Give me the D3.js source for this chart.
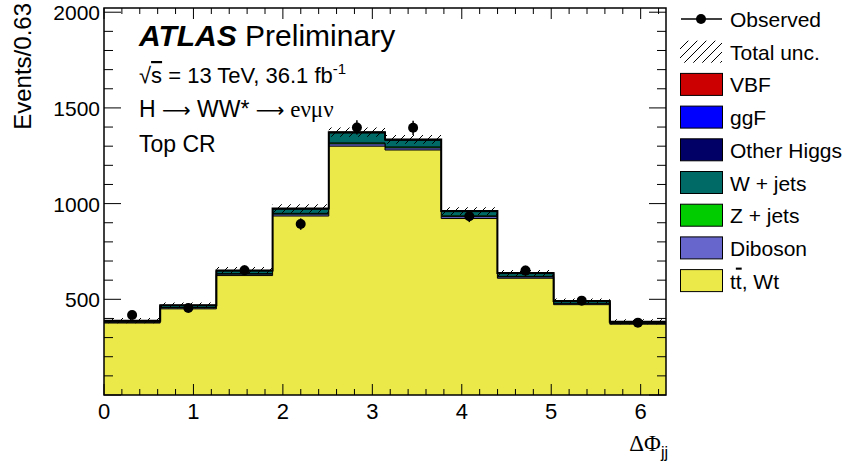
<!DOCTYPE html>
<html>
<head>
<meta charset="utf-8">
<script src="https://cdn.jsdelivr.net/npm/d3@7"></script>
<style>
	body { margin: 0; background: #fff; }
	text { font-family: "Liberation Sans", Arial, sans-serif; fill: #000; }
</style>
</head>
<body>
<svg id="chart" width="843" height="475"></svg>
<script>
// bins of delta phi jj, 10 bins from 0 to 2pi
var binCount  = 10;
var xMax      = 2 * Math.PI;

// backgrounds, events per bin
var ttbar     = [376, 450, 624, 935, 1300, 1280, 922, 610, 472, 370];
var diboson   = [4, 5, 7, 10, 12, 11, 10, 7, 5, 4];
var zjets     = [1, 2, 3, 4, 5, 5, 4, 3, 2, 1];
var wjets     = [6, 10, 14, 22, 52, 35, 22, 14, 10, 6];
var otherH    = [0.3, 0.4, 0.5, 0.6, 0.8, 0.8, 0.6, 0.5, 0.4, 0.3];
var ggF       = [1, 1, 2, 2, 3, 3, 2, 2, 1, 1];
var vbf       = [0.2, 0.3, 0.3, 0.4, 0.5, 0.5, 0.4, 0.3, 0.3, 0.2];
var totalUnc  = [14, 15, 18, 22, 24, 23, 20, 16, 14, 13];
var observed  = [418, 455, 652, 893, 1398, 1396, 934, 650, 493, 378];

var xTicks    = [0, 1, 2, 3, 4, 5, 6];
var yTicks    = [500, 1000, 1500, 2000];

var keys      = ["ttbar", "diboson", "zjets", "wjets", "otherH", "ggF", "vbf"];
var colors    = { ttbar: "#ebe94a", diboson: "#6666cc", zjets: "#00cc00", wjets: "#006a66",
                  otherH: "#000066", ggF: "#0000ff", vbf: "#cc0000" };

var legendRows = [
	{ label: "Observed", type: "data" },
	{ label: "Total unc.", type: "hatch" },
	{ label: "VBF", key: "vbf" },
	{ label: "ggF", key: "ggF" },
	{ label: "Other Higgs", key: "otherH" },
	{ label: "W + jets", key: "wjets" },
	{ label: "Z + jets", key: "zjets" },
	{ label: "Diboson", key: "diboson" },
	{ label: "tt, Wt", key: "ttbar" }
];

var pLeft = 104, pRight = 666, pTop = 8, pBottom = 395;

var svg = d3.select("#chart");
var x = d3.scaleLinear().domain([0, xMax]).range([pLeft, pRight]);
var y = d3.scaleLinear().domain([0, 2022]).range([pBottom, pTop]);

var binW  = xMax / binCount;
var edges = d3.range(binCount + 1).map(function(i){ return i * binW; });

var rows = d3.range(binCount).map(function(i){
	return { ttbar: ttbar[i], diboson: diboson[i], zjets: zjets[i], wjets: wjets[i],
	         otherH: otherH[i], ggF: ggF[i], vbf: vbf[i] };
});
var series = d3.stack().keys(keys)(rows);

// hatch pattern
var defs = svg.append("defs");
var pat = defs.append("pattern")
	.attr("id", "hatch")
	.attr("patternUnits", "userSpaceOnUse")
	.attr("width", 9).attr("height", 9);
pat.append("path")
	.attr("d", "M0,9 L9,0 M-2,2 L2,-2 M7,11 L11,7")
	.attr("stroke", "#000").attr("stroke-width", 1);

defs.append("clipPath").attr("id", "plotClip")
	.append("rect").attr("x", pLeft).attr("y", pTop)
	.attr("width", pRight - pLeft).attr("height", pBottom - pTop);

var plot = svg.append("g").attr("clip-path", "url(#plotClip)");

// step points for a layer
function stepPoints(s){
	var pts = [];
	s.forEach(function(d, i){
		pts.push({ x: edges[i], y0: d[0], y1: d[1] });
		pts.push({ x: edges[i + 1], y0: d[0], y1: d[1] });
	});
	return pts;
}

var area = d3.area()
	.x(function(p){ return x(p.x); })
	.y0(function(p){ return y(0); })
	.y1(function(p){ return y(p.y1); });
var topLine = d3.line()
	.x(function(p){ return x(p.x); })
	.y(function(p){ return y(p.y1); });

// draw biggest cumulative first, smaller on top
series.slice().reverse().forEach(function(s){
	var pts = stepPoints(s);
	plot.append("path").attr("d", area(pts))
		.attr("fill", colors[s.key]).attr("stroke", "none");
	plot.append("path").attr("d", topLine(pts))
		.attr("fill", "none").attr("stroke", "#000").attr("stroke-width", 1);
});

// outer outline of the stack
var totalPts = stepPoints(series[series.length - 1]);
plot.append("path").attr("d", topLine(totalPts))
	.attr("fill", "none").attr("stroke", "#000").attr("stroke-width", 2);

// uncertainty band
var bandPts = [];
series[series.length - 1].forEach(function(d, i){
	bandPts.push({ x: edges[i], t: d[1], u: totalUnc[i] });
	bandPts.push({ x: edges[i + 1], t: d[1], u: totalUnc[i] });
});
plot.append("path")
	.attr("d", d3.area()
		.x(function(p){ return x(p.x); })
		.y0(function(p){ return y(p.t - p.u); })
		.y1(function(p){ return y(p.t + p.u); })(bandPts))
	.attr("fill", "url(#hatch)").attr("stroke", "none");

// data points
var centers = d3.range(binCount).map(function(i){ return (i + 0.5) * binW; });
plot.selectAll("line.err").data(observed).enter().append("line")
	.attr("class", "err")
	.attr("x1", function(d, i){ return x(centers[i]); })
	.attr("x2", function(d, i){ return x(centers[i]); })
	.attr("y1", function(d){ return y(d - Math.sqrt(d)); })
	.attr("y2", function(d){ return y(d + Math.sqrt(d)); })
	.attr("stroke", "#000").attr("stroke-width", 1.5);
plot.selectAll("circle.obs").data(observed).enter().append("circle")
	.attr("class", "obs")
	.attr("cx", function(d, i){ return x(centers[i]); })
	.attr("cy", function(d){ return y(d); })
	.attr("r", 5).attr("fill", "#000");

// axes
var axisG = svg.append("g");
var xMinor = d3.range(0, 6.3, 0.2);
var yMinor = d3.range(0, 2001, 100);

xMinor.forEach(function(v){
	var isMajor = Math.abs(v - Math.round(v)) < 1e-6;
	var len = isMajor ? 11 : 6;
	axisG.append("line").attr("x1", x(v)).attr("x2", x(v))
		.attr("y1", pBottom).attr("y2", pBottom - len).attr("stroke", "#000");
	axisG.append("line").attr("x1", x(v)).attr("x2", x(v))
		.attr("y1", pTop).attr("y2", pTop + len).attr("stroke", "#000");
});
yMinor.forEach(function(v){
	var isMajor = v % 500 === 0;
	var len = isMajor ? 17 : 9;
	axisG.append("line").attr("x1", pLeft).attr("x2", pLeft + len)
		.attr("y1", y(v)).attr("y2", y(v)).attr("stroke", "#000");
	axisG.append("line").attr("x1", pRight).attr("x2", pRight - len)
		.attr("y1", y(v)).attr("y2", y(v)).attr("stroke", "#000");
});

axisG.append("rect")
	.attr("x", pLeft).attr("y", pTop)
	.attr("width", pRight - pLeft).attr("height", pBottom - pTop)
	.attr("fill", "none").attr("stroke", "#000").attr("stroke-width", 1.5);

axisG.selectAll("text.xt").data(xTicks).enter().append("text")
	.attr("x", function(d){ return x(d); })
	.attr("y", 419)
	.attr("text-anchor", "middle")
	.style("font-size", "22px")
	.text(function(d){ return d; });
axisG.selectAll("text.yt").data(yTicks).enter().append("text")
	.attr("x", 100)
	.attr("y", function(d){ return y(d) + 8; })
	.attr("text-anchor", "end")
	.style("font-size", "21px")
	.text(function(d){ return d; });

// axis titles
svg.append("text")
	.attr("transform", "translate(31,3) rotate(-90)")
	.attr("text-anchor", "end")
	.style("font-size", "24px")
	.text("Events/0.63");

var xt = svg.append("text")
	.attr("x", 668).attr("y", 451)
	.attr("text-anchor", "end")
	.style("font-size", "23px");
xt.append("tspan").style("font-family", "Liberation Serif, serif").text("\u0394\u03a6");
xt.append("tspan").attr("dy", 7).style("font-size", "16px").text("jj");

// labels
var lab = svg.append("g");
var atl = lab.append("text").attr("x", 139).attr("y", 46).style("font-size", "30px");
atl.append("tspan").style("font-weight", "bold").style("font-style", "italic").text("ATLAS");
atl.append("tspan").text(" Preliminary");

var lum = lab.append("text").attr("x", 139).attr("y", 83).style("font-size", "22px");
lum.append("tspan").text("\u221a");
lum.append("tspan").style("text-decoration", "overline").text("s");
lum.append("tspan").text(" = 13 TeV, 36.1 fb");
lum.append("tspan").attr("dy", -9).style("font-size", "15px").text("-1");

var hww = lab.append("text").attr("x", 139).attr("y", 117).style("font-size", "23px");
hww.append("tspan").text("H ");
hww.append("tspan").style("font-family", "DejaVu Sans").style("font-size", "20px").text("\u27f6");
hww.append("tspan").text(" WW* ");
hww.append("tspan").style("font-family", "DejaVu Sans").style("font-size", "20px").text("\u27f6");
hww.append("tspan").style("font-family", "Liberation Serif, serif").text(" e\u03bd\u03bc\u03bd");

lab.append("text").attr("x", 139).attr("y", 152).style("font-size", "23px")
	.text("Top CR");

// legend
var leg = svg.append("g");
var rowY0 = 19, rowStep = 32.7;
legendRows.forEach(function(r, i){
	var cy = rowY0 + i * rowStep;
	if (r.type === "data"){
		leg.append("line").attr("x1", 681).attr("x2", 722).attr("y1", cy).attr("y2", cy)
			.attr("stroke", "#000").attr("stroke-width", 1.5);
		leg.append("circle").attr("cx", 701).attr("cy", cy).attr("r", 5).attr("fill", "#000");
	} else if (r.type === "hatch"){
		leg.append("rect").attr("x", 680).attr("y", cy - 11).attr("width", 42).attr("height", 22)
			.attr("fill", "url(#hatch)");
	} else {
		leg.append("rect").attr("x", 680.5).attr("y", cy - 11).attr("width", 42).attr("height", 22)
			.attr("fill", colors[r.key]).attr("stroke", "#000").attr("stroke-width", 1);
	}
	var t = leg.append("text").attr("x", 730).attr("y", cy + 8).style("font-size", "21px");
	if (r.key === "ttbar"){
		t.append("tspan").text("t");
		t.append("tspan").style("text-decoration", "overline").text("t");
		t.append("tspan").text(", Wt");
	} else {
		t.text(r.label);
	}
});
</script>
</body>
</html>
